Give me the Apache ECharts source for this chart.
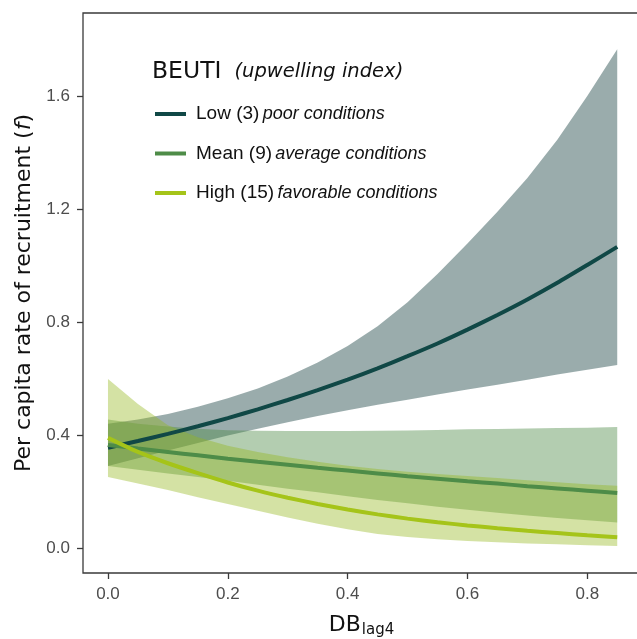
<!DOCTYPE html>
<html>
<head>
<meta charset="utf-8">
<script src="https://cdn.jsdelivr.net/npm/echarts@6/dist/echarts.min.js"></script>
<style>
  html, body { margin: 0; padding: 0; background: #fff; }
  #main { width: 637px; height: 639px; }
</style>
</head>
<body>
<div id="main"></div>
<script>
// DB lag4 values (x)
var xVals = [0, 0.05, 0.1, 0.15, 0.2, 0.25, 0.3, 0.35, 0.4, 0.45, 0.5, 0.55, 0.6, 0.65, 0.7, 0.75, 0.8, 0.85];

// Low BEUTI (3)
var lowMean  = [0.355, 0.379, 0.404, 0.431, 0.46, 0.491, 0.524, 0.559, 0.596, 0.636, 0.679, 0.724, 0.773, 0.825, 0.88, 0.939, 1.002, 1.066];
var lowUpper = [0.44, 0.455, 0.474, 0.5, 0.53, 0.565, 0.607, 0.657, 0.715, 0.785, 0.87, 0.97, 1.078, 1.19, 1.31, 1.445, 1.6, 1.766];
var lowLower = [0.29, 0.318, 0.345, 0.372, 0.398, 0.422, 0.445, 0.467, 0.488, 0.507, 0.525, 0.543, 0.561, 0.578, 0.596, 0.614, 0.631, 0.648];

// Mean BEUTI (9)
var meanMean  = [0.365, 0.352, 0.34, 0.328, 0.316, 0.305, 0.295, 0.284, 0.274, 0.264, 0.254, 0.245, 0.236, 0.228, 0.219, 0.211, 0.203, 0.195];
var meanUpper = [0.455, 0.44, 0.43, 0.422, 0.417, 0.415, 0.414, 0.414, 0.414, 0.415, 0.416, 0.418, 0.42, 0.421, 0.423, 0.425, 0.426, 0.428];
var meanLower = [0.29, 0.277, 0.264, 0.251, 0.238, 0.224, 0.21, 0.197, 0.183, 0.17, 0.158, 0.146, 0.135, 0.125, 0.115, 0.106, 0.098, 0.09];

// High BEUTI (15)
var highMean  = [0.39, 0.34, 0.3, 0.265, 0.232, 0.203, 0.178, 0.156, 0.136, 0.119, 0.104, 0.091, 0.08, 0.07, 0.061, 0.053, 0.045, 0.038];
var highUpper = [0.598, 0.51, 0.435, 0.392, 0.362, 0.34, 0.321, 0.305, 0.291, 0.28, 0.27, 0.262, 0.255, 0.248, 0.24, 0.233, 0.226, 0.22];
var highLower = [0.251, 0.228, 0.205, 0.18, 0.156, 0.132, 0.108, 0.086, 0.066, 0.05, 0.039, 0.031, 0.025, 0.02, 0.016, 0.013, 0.01, 0.007];

var xTicks = [0, 0.2, 0.4, 0.6, 0.8];
var yTicks = [0, 0.4, 0.8, 1.2, 1.6];

var legendText = {
    'Low': '{a|Low (3)} {b|poor conditions}',
    'Mean': '{a|Mean (9)} {b|average conditions}',
    'High': '{a|High (15)} {b|favorable conditions}'
};

function pairs(ys) {
    return xVals.map(function (x, i) { return [x, ys[i]]; });
}

// ribbon drawn as one polygon: upper edge forward, lower edge back
function band(name, lo, hi, color, alpha) {
    return {
        name: name + 'Band',
        type: 'custom',
        silent: true,
        data: xVals.map(function (x, i) { return [x, lo[i], hi[i]]; }),
        encode: { x: 0, y: [1, 2] },
        renderItem: function (params, api) {
            if (params.dataIndex !== 0) return null;
            var pts = [];
            for (var i = 0; i < xVals.length; i++) pts.push(api.coord([xVals[i], hi[i]]));
            for (var j = xVals.length - 1; j >= 0; j--) pts.push(api.coord([xVals[j], lo[j]]));
            return {
                type: 'polygon',
                shape: { points: pts },
                style: { fill: color, opacity: alpha }
            };
        }
    };
}
function meanLine(name, ys, color) {
    return {
        name: name, type: 'line', data: pairs(ys),
        symbol: 'none', smooth: 0.2,
        itemStyle: { color: color },
        lineStyle: { color: color, width: 4 }
    };
}

var myChart = echarts.init(document.getElementById('main'));

var series = [
    band('low', lowLower, lowUpper, '#2c5252', 0.48),
    band('mean', meanLower, meanUpper, '#4e8c48', 0.43),
    band('high', highLower, highUpper, '#93b61b', 0.4),
    meanLine('Low', lowMean, '#104846'),
    meanLine('Mean', meanMean, '#4e8c48'),
    meanLine('High', highMean, '#a5c419')
];

var option = {
    animation: false,
    title: {
        text: '{a|BEUTI}{b|(upwelling index)}',
        left: 152,
        top: 60,
        padding: 0,
        textStyle: {
            rich: {
                a: { fontFamily: 'DejaVu Sans', fontSize: 23.5, fontWeight: 'normal', color: '#111' },
                b: { fontFamily: 'DejaVu Sans', fontSize: 19.5, fontStyle: 'italic', fontWeight: 'normal', color: '#111', padding: [0, 0, 0, 13] }
            }
        }
    },
    legend: {
        data: ['Low', 'Mean', 'High'],
        orient: 'vertical',
        left: 155,
        top: 104,
        padding: 0,
        itemGap: 19.5,
        itemWidth: 31,
        itemHeight: 4,
        icon: 'rect',
        selectedMode: false,
        formatter: function (name) { return legendText[name]; },
        textStyle: {
            lineHeight: 20,
            rich: {
                a: { fontFamily: 'Liberation Sans', fontSize: 19, color: '#111', padding: [0, 0, 0, 5] },
                b: { fontFamily: 'Liberation Sans', fontSize: 18, fontStyle: 'italic', color: '#111' }
            }
        }
    },
    grid: {
        left: 83,
        right: -3,
        top: 13,
        bottom: 66,
        containLabel: false,
        outerBoundsMode: 'none',
        show: true,
        borderColor: '#3a3a3a',
        borderWidth: 1.3
    },
    xAxis: {
        type: 'value',
        min: -0.0417,
        max: 0.888,
        name: '{a|DB}{b|lag4}',
        nameLocation: 'middle',
        nameGap: 40,
        nameTextStyle: {
            rich: {
                a: { fontFamily: 'DejaVu Sans', fontSize: 22, color: '#111' },
                b: { fontFamily: 'DejaVu Sans', fontSize: 15, color: '#111', padding: [10, 0, 0, 1] }
            }
        },
        axisLine: { show: false, onZero: false },
        axisTick: { show: true, length: 6, lineStyle: { color: '#3a3a3a', width: 1.3 }, customValues: xTicks },
        axisLabel: {
            customValues: xTicks,
            margin: 13,
            fontFamily: 'Liberation Sans',
            fontSize: 17,
            color: '#4d4d4d',
            formatter: function (v) { return v.toFixed(1); }
        },
        splitLine: { show: false }
    },
    yAxis: {
        type: 'value',
        min: -0.0885,
        max: 1.894,
        name: '{a|Per capita rate of recruitment (}{b|f}{a|)}',
        nameLocation: 'middle',
        nameGap: 47,
        nameTextStyle: {
            rich: {
                a: { fontFamily: 'DejaVu Sans', fontSize: 22, color: '#111' },
                b: { fontFamily: 'DejaVu Sans', fontSize: 22, fontStyle: 'italic', color: '#111' }
            }
        },
        axisLine: { show: false, onZero: false },
        axisTick: { show: true, length: 6, lineStyle: { color: '#3a3a3a', width: 1.3 }, customValues: yTicks },
        axisLabel: {
            customValues: yTicks,
            margin: 13,
            fontFamily: 'Liberation Sans',
            fontSize: 17,
            color: '#4d4d4d',
            formatter: function (v) { return v.toFixed(1); }
        },
        splitLine: { show: false }
    },
    series: series
};

myChart.setOption(option);
</script>
</body>
</html>
